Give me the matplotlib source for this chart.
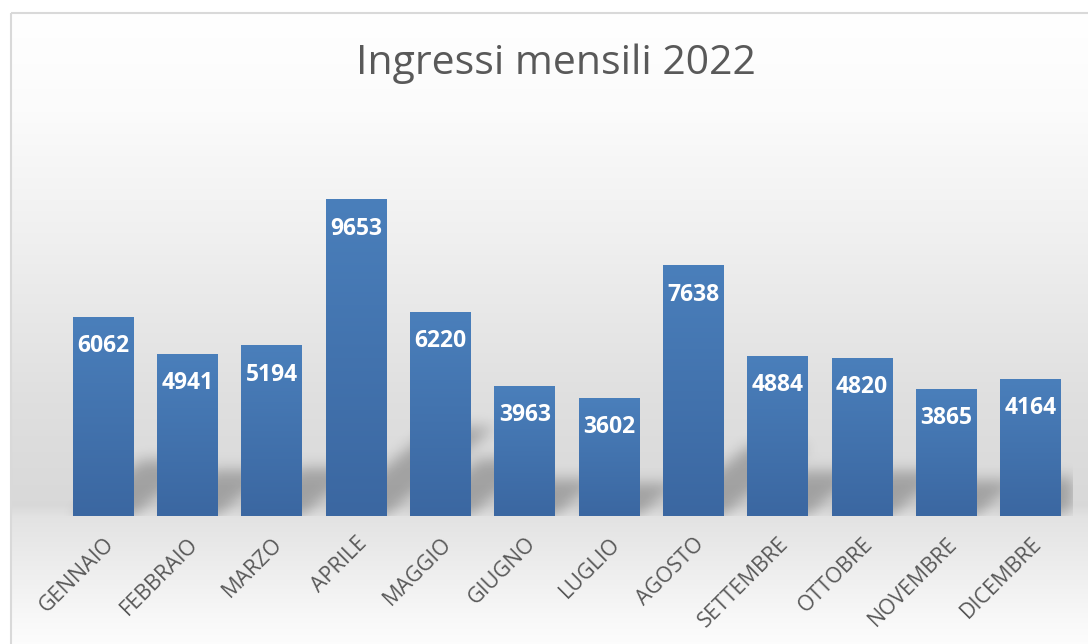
import numpy as np
import matplotlib
matplotlib.use('Agg')
import matplotlib.pyplot as plt
from matplotlib.colors import LinearSegmentedColormap
from matplotlib.patches import Rectangle

months = ['GENNAIO', 'FEBBRAIO', 'MARZO', 'APRILE', 'MAGGIO', 'GIUGNO',
          'LUGLIO', 'AGOSTO', 'SETTEMBRE', 'OTTOBRE', 'NOVEMBRE', 'DICEMBRE']
ingressi = [6062, 4941, 5194, 9653, 6220, 3963, 3602, 7638, 4884, 4820, 3865, 4164]
title = 'Ingressi mensili 2022'

W, H = 1088, 644
fig = plt.figure(figsize=(W / 100, H / 100), dpi=100)
fig.patch.set_facecolor('white')

# chart area background (vertical gradient), drawn in pixel coords
bg = fig.add_axes([0, 0, 1, 1], zorder=0)
bg.set_xlim(0, W)
bg.set_ylim(H, 0)
bg.axis('off')
stops_y = [12, 110, 250, 400, 505, 517, 560, 620, 644]
stops_v = [1.00, 0.985, 0.935, 0.875, 0.85, 0.89, 0.925, 0.975, 0.99]
yy = np.arange(12, H)
vals = np.interp(yy, stops_y, stops_v)
grad = np.repeat(vals[:, None, None], 3, axis=2) * np.ones((1, 4, 3))
bg.imshow(grad, extent=[10, W, H, 12], aspect='auto', interpolation='nearest')
bg.add_patch(Rectangle((10.5, 12.5), W + 20, H + 20, fill=False,
                       edgecolor='#d9d9d9', linewidth=1.5))
bg.text(556, 64, title, ha='center', va='center', fontsize=29.5,
        color='#595959', family='Open Sans')

# plot area
ax = fig.add_axes([61 / W, (H - 516) / H, 1012 / W, (516 - 123) / H], zorder=1)
ax.set_xlim(-0.5, 11.5)
ax.set_ylim(0, 12000)
ax.patch.set_alpha(0)
for s in ax.spines.values():
    s.set_visible(False)
ax.tick_params(left=False, bottom=False, labelleft=False)

x = np.arange(len(months))
bar_w = 0.72

# perspective shadow behind the bars, blurred
gw, gh = 1012, 393
px = np.linspace(-0.5, 11.5, gw)
py = np.linspace(0, 12000, gh)
PX, PY = np.meshgrid(px, py)
squash, skew = 0.28, 0.4 / 3000
orig_h = PY / squash
orig_x = PX - skew * orig_h
mask = np.zeros_like(PX)
for xi, v in zip(x, ingressi):
    inside = (np.abs(orig_x - xi) <= bar_w / 2) & (orig_h <= v)
    mask[inside] = 1.0
k = np.exp(-0.5 * (np.arange(-25, 26) / 7.0) ** 2)
k /= k.sum()
mask = np.apply_along_axis(lambda r: np.convolve(r, k, mode='same'), 1, mask)
mask = np.apply_along_axis(lambda c: np.convolve(c, k, mode='same'), 0, mask)
shadow = np.zeros((gh, gw, 4))
shadow[..., 3] = 0.26 * mask
ax.imshow(shadow, extent=[-0.5, 11.5, 0, 12000], origin='lower',
          aspect='auto', zorder=1, interpolation='bilinear')

# bars with vertical gradient
bar_cmap = LinearSegmentedColormap.from_list('bar', ['#3b67a1', '#4a7fbb'])
ramp = np.linspace(0, 1, 256)[:, None]
bars = ax.bar(x, ingressi, width=bar_w, color='none', zorder=2)
for b, v in zip(bars, ingressi):
    x0 = b.get_x()
    ax.imshow(ramp, extent=[x0, x0 + bar_w, 0, v], origin='lower', cmap=bar_cmap,
              aspect='auto', zorder=2, interpolation='bilinear')
    ax.text(b.get_x() + bar_w / 2, v - 880, str(v), ha='center', va='center',
            color='white', fontsize=16.5, fontweight='bold', family='Open Sans', zorder=3)

ax.set_xlim(-0.5, 11.5)
ax.set_ylim(0, 12000)
ax.set_xticks(x)
ax.set_xticklabels(months, rotation=45, ha='right', va='top', rotation_mode='anchor',
                   fontsize=15.5, color='#595959', family='Open Sans')
ax.tick_params(axis='x', pad=9)

fig.savefig('out.png', dpi=100)
